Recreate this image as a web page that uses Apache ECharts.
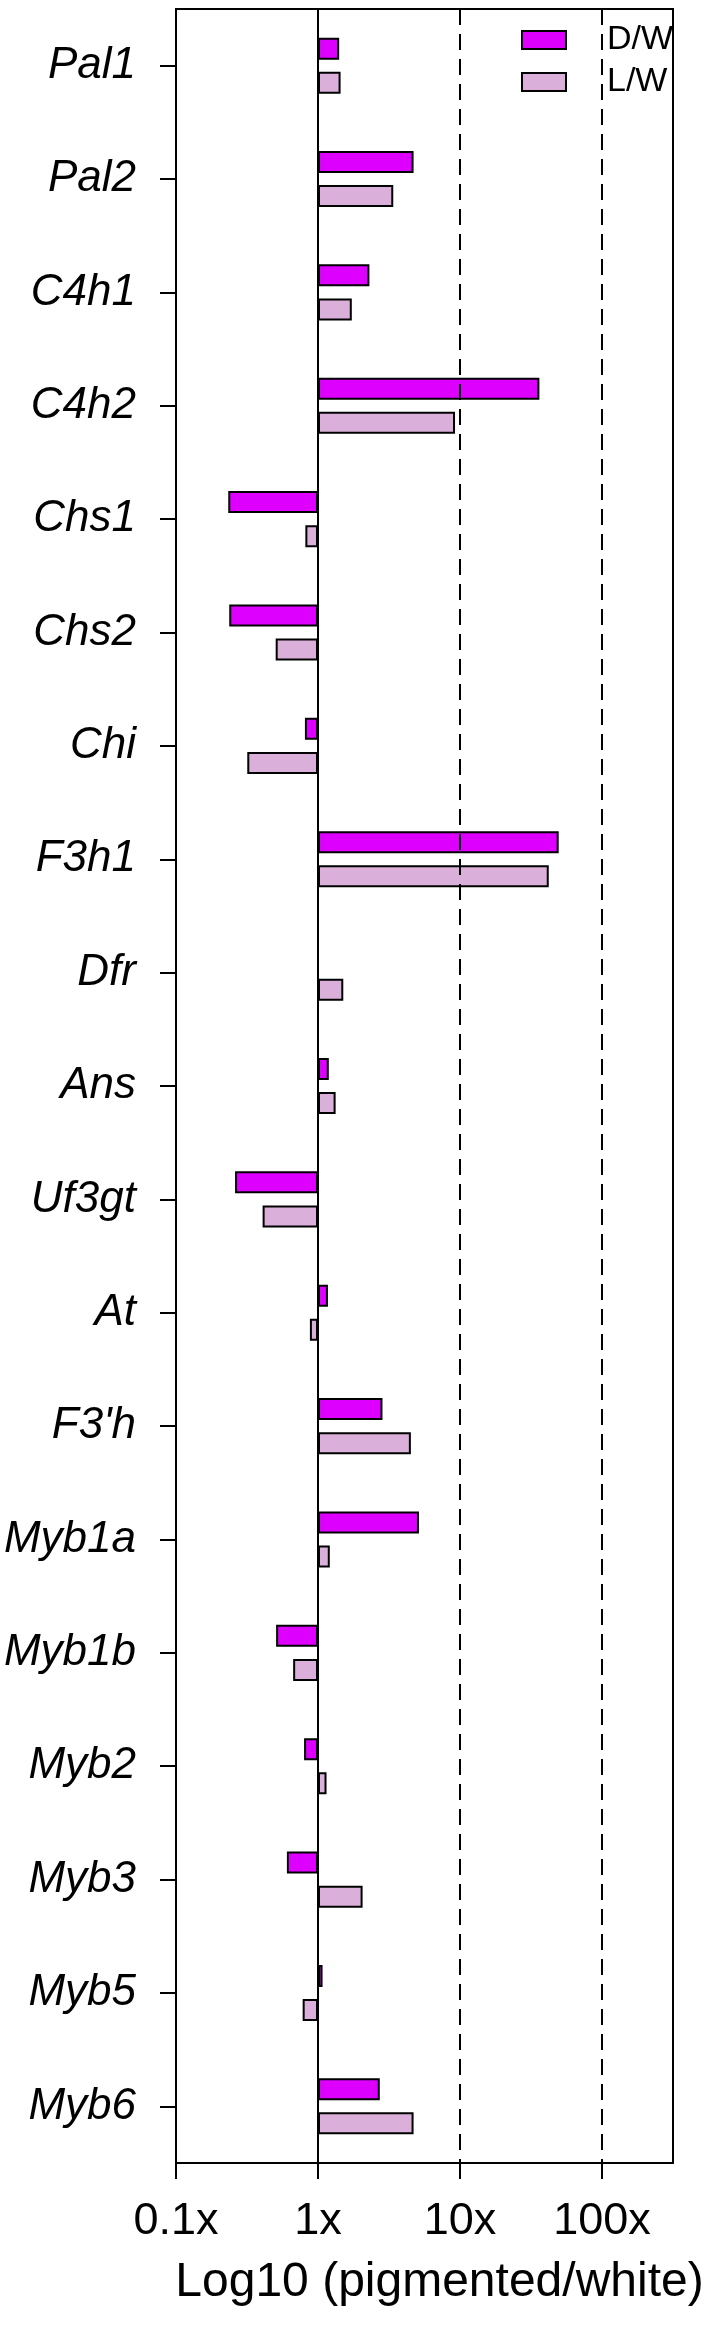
<!DOCTYPE html>
<html>
<head>
<meta charset="utf-8">
<script src="https://cdn.jsdelivr.net/npm/echarts@6/dist/echarts.min.js"></script>
<style>
html,body{margin:0;padding:0;background:#fff;}
#chart{width:708px;height:2325px;}
</style>
</head>
<body>
<div id="chart"></div>
<script>
// Gene names (top to bottom)
const categories = ['Pal1','Pal2','C4h1','C4h2','Chs1','Chs2','Chi','F3h1','Dfr','Ans','Uf3gt','At',"F3'h",'Myb1a','Myb1b','Myb2','Myb3','Myb5','Myb6'];
// log10(pigmented/white) ratios
const dwValues = [0.149, 0.673, 0.362, 1.559, -0.632, -0.625, -0.092, 1.695, 0.0, 0.076, -0.584, 0.070, 0.454, 0.711, -0.295, -0.098, -0.219, 0.032, 0.435];
const lwValues = [0.159, 0.530, 0.238, 0.965, -0.089, -0.298, -0.498, 1.625, 0.178, 0.124, -0.390, -0.057, 0.654, 0.083, -0.175, 0.060, 0.314, -0.108, 0.673];
const seriesNames = ['D/W', 'L/W'];
// x-axis ticks (log10 units) and reference lines
const tickValues = [-1, 0, 1, 2];
const solidRefLines = [0];
const dashedRefLines = [1, 2];
const axisMin = -1, axisMax = 2.5;

const chart = echarts.init(document.getElementById('chart'), null, {renderer: 'canvas'});
const FONT = 'Liberation Sans, Arial, sans-serif';

const refLineData = solidRefLines.map(v => ({xAxis: v, lineStyle: {type: 'solid'}}))
  .concat(dashedRefLines.map(v => ({xAxis: v, lineStyle: {type: [16, 9]}})));

const option = {
  animation: false,
  backgroundColor: '#fff',
  grid: {
    left: 176, right: 35, top: 9, bottom: 162,
    show: true, borderColor: '#000', borderWidth: 2, backgroundColor: 'transparent'
  },
  legend: {
    data: seriesNames,
    orient: 'vertical',
    left: 521, top: 23, padding: 0,
    itemWidth: 44, itemHeight: 18, itemGap: 8,
    icon: 'rect',
    textStyle: {fontFamily: FONT, fontSize: 34, lineHeight: 18, color: '#000', padding: [0, 0, 0, 36]}
  },
  xAxis: {
    type: 'value',
    min: axisMin, max: axisMax, interval: 1,
    name: 'Log10 (pigmented/white)',
    nameLocation: 'middle',
    nameGap: 96,
    nameTextStyle: {fontFamily: FONT, fontSize: 48, color: '#000', padding: [0, 0, 0, 30]},
    axisLine: {show: true, onZero: false, lineStyle: {color: '#000', width: 2}},
    axisTick: {show: true, length: 16, lineStyle: {color: '#000', width: 2}, customValues: tickValues},
    axisLabel: {
      fontFamily: FONT, fontSize: 45, color: '#000', margin: 36,
      customValues: tickValues,
      formatter: v => Math.pow(10, v) + 'x'
    },
    splitLine: {show: false}
  },
  yAxis: {
    type: 'category',
    data: categories,
    inverse: true,
    axisLine: {show: true, onZero: false, lineStyle: {color: '#000', width: 2}},
    axisTick: {show: true, alignWithLabel: true, length: 16, lineStyle: {color: '#000', width: 2}},
    axisLabel: {fontFamily: FONT, fontSize: 44, fontStyle: 'italic', color: '#000', margin: 40}
  },
  series: [
    {
      name: seriesNames[0], type: 'bar', data: dwValues,
      barWidth: 22, barGap: '55%',
      itemStyle: {color: '#DD00FF', borderColor: '#000', borderWidth: 2},
      markLine: {
        silent: true, symbol: 'none', label: {show: false},
        lineStyle: {color: '#000', width: 2},
        data: refLineData
      }
    },
    {
      name: seriesNames[1], type: 'bar', data: lwValues,
      barWidth: 22, barGap: '55%',
      itemStyle: {color: '#DAB0DA', borderColor: '#000', borderWidth: 2}
    }
  ]
};
chart.setOption(option);
</script>
</body>
</html>
